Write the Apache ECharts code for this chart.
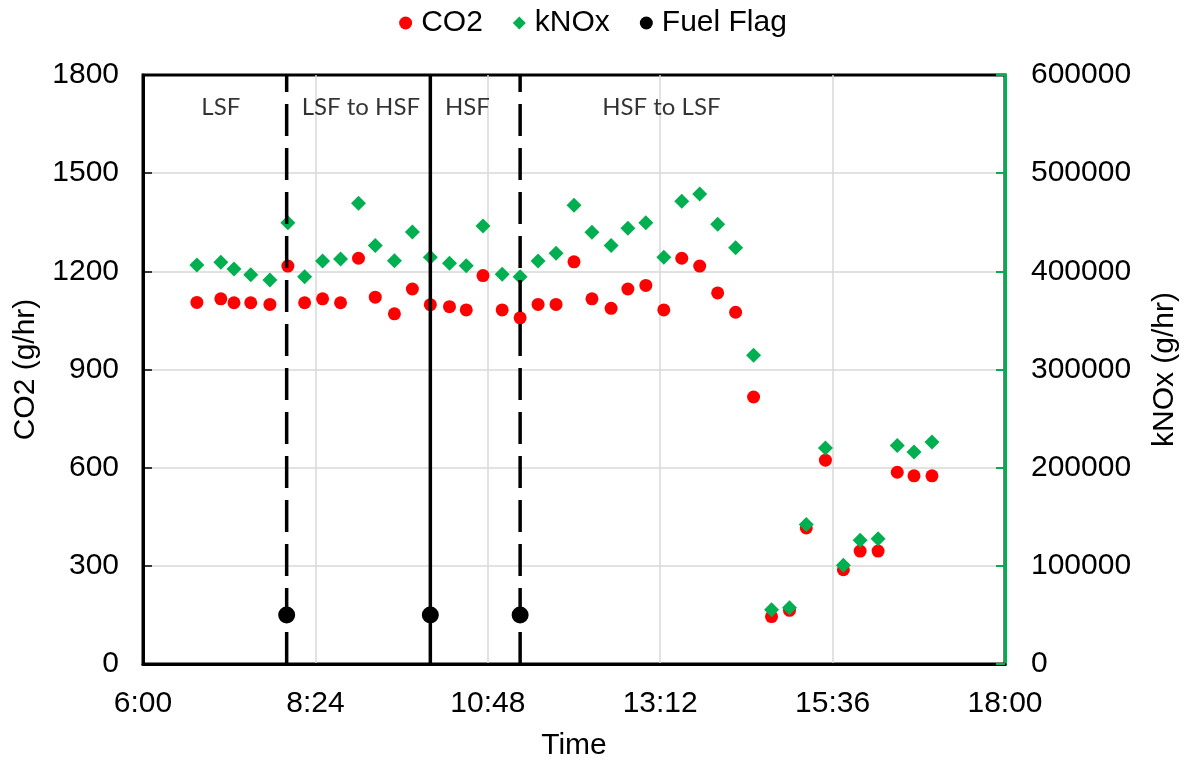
<!DOCTYPE html>
<html>
<head>
<meta charset="utf-8">
<script src="https://cdn.jsdelivr.net/npm/echarts@6/dist/echarts.min.js"></script>
<style>
  html, body { margin: 0; padding: 0; background: #fff; }
  #chart { width: 1186px; height: 762px; }
</style>
</head>
<body>
<div id="chart"></div>
<script>
// sample times (h:mm)
const times = ['6:45', '7:05', '7:16', '7:30', '7:46', '8:01', '8:15', '8:30', '8:45', '9:00',
  '9:14', '9:30', '9:45', '10:00', '10:16', '10:30', '10:44', '11:00', '11:15', '11:30',
  '11:45', '12:00', '12:15', '12:31', '12:45', '13:00', '13:15', '13:30', '13:45', '14:00',
  '14:15', '14:30', '14:45', '15:00', '15:14', '15:30', '15:45', '15:59', '16:14', '16:30',
  '16:44', '16:59']
const co2 = [1105, 1116, 1104, 1104, 1099, 1216, 1104, 1116, 1104, 1240,
  1121, 1070, 1146, 1098, 1092, 1082, 1187, 1082, 1058, 1099,
  1099, 1229, 1116, 1087, 1146, 1157, 1082, 1240, 1216, 1134,
  1075, 816, 145, 164, 416, 623, 288, 345, 345, 586,
  575, 575]
const knox = [406500, 409200, 402400, 396600, 391200, 449600, 394500, 410600, 412600, 469400,
  426200, 410900, 440100, 414300, 408200, 405800, 446300, 397000, 394500, 410600,
  418400, 467300, 439800, 426200, 443900, 449600, 414300, 471400, 478900, 448000,
  424100, 314400, 55300, 57300, 142000, 220100, 100500, 126000, 127700, 222600,
  216000, 226200]

const flagTimes = ['8:00', '10:00', '11:15']
const flagValues = [150, 150, 150]

const phaseLabels = ['LSF', 'LSF to HSF', 'HSF', 'HSF to LSF']
const phaseTimes = ['7:05', '9:02', '10:31', '13:13']
const phaseLevel = 1700

const xTickLabels = ['6:00', '8:24', '10:48', '13:12', '15:36', '18:00']
const co2Ticks = [0, 300, 600, 900, 1200, 1500, 1800]
const knoxTicks = [0, 100000, 200000, 300000, 400000, 500000, 600000]

function toMin(s) {
  const p = s.split(':')
  return +p[0] * 60 + +p[1]
}
function fmtTime(v) {
  const h = Math.floor(v / 60)
  const m = Math.round(v - h * 60)
  return h + ':' + (m < 10 ? '0' + m : m)
}

const xMin = toMin(xTickLabels[0])
const xMax = toMin(xTickLabels[xTickLabels.length - 1])
const xStep = toMin(xTickLabels[1]) - xMin
const yMax = co2Ticks[co2Ticks.length - 1]

const font = '"Liberation Sans", Arial, sans-serif'
const fs = 30
const gridLine = { color: '#d9d9d9', width: 1.5 }

const chart = echarts.init(document.getElementById('chart'))

const flagLines = flagTimes.map((t, i) => ({
  type: 'line',
  name: 'flagLine' + i,
  data: [[toMin(t), 0], [toMin(t), yMax]],
  showSymbol: false,
  symbol: 'none',
  silent: true,
  z: 4,
  lineStyle: {
    color: '#000',
    width: 3.5,
    opacity: 1,
    type: i === 1 ? 'solid' : [32, 12]
  }
}))

const option = {
  backgroundColor: '#fff',
  animation: false,
  textStyle: { fontFamily: font },
  legend: {
    top: 3,
    left: 'center',
    itemWidth: 13,
    itemHeight: 13,
    itemGap: 30,
    textStyle: { fontFamily: font, fontSize: fs, color: '#000', padding: [0, 0, 0, 4] },
    data: [
      { name: 'CO2', icon: 'circle' },
      { name: 'kNOx', icon: 'diamond' },
      { name: 'Fuel Flag', icon: 'circle' }
    ]
  },
  grid: {
    left: 143,
    right: 181,
    top: 75,
    bottom: 98,
    outerBoundsMode: 'none',
    containLabel: false,
    show: true,
    borderColor: '#000',
    borderWidth: 3
  },
  xAxis: {
    type: 'value',
    min: xMin,
    max: xMax,
    interval: xStep,
    name: 'Time',
    nameLocation: 'middle',
    nameGap: 67,
    nameTextStyle: { fontFamily: font, fontSize: fs, color: '#000' },
    axisLine: { show: true, lineStyle: { color: '#000', width: 3 } },
    axisTick: { show: false },
    axisLabel: { fontFamily: font, fontSize: fs, color: '#000', margin: 25, formatter: fmtTime },
    splitLine: { show: true, showMinLine: false, showMaxLine: false, lineStyle: gridLine }
  },
  yAxis: [
    {
      type: 'value',
      min: co2Ticks[0],
      max: yMax,
      interval: co2Ticks[1] - co2Ticks[0],
      name: 'CO2 (g/hr)',
      nameLocation: 'middle',
      nameGap: 102,
      nameRotate: 90,
      nameTextStyle: { fontFamily: font, fontSize: fs, color: '#000' },
      axisLine: { show: true, lineStyle: { color: '#000', width: 3 } },
      axisTick: { show: true, inside: true, length: 9, lineStyle: { color: '#000', width: 1.5 } },
      axisLabel: { fontFamily: font, fontSize: fs, color: '#000', margin: 24, formatter: v => String(v) },
      splitLine: { show: true, showMinLine: false, showMaxLine: false, lineStyle: gridLine }
    },
    {
      type: 'value',
      position: 'right',
      min: knoxTicks[0],
      max: knoxTicks[knoxTicks.length - 1],
      interval: knoxTicks[1] - knoxTicks[0],
      name: 'kNOx (g/hr)',
      nameLocation: 'middle',
      nameGap: 145,
      nameRotate: 90,
      nameTextStyle: { fontFamily: font, fontSize: fs, color: '#000' },
      axisLine: { show: true, lineStyle: { color: '#00b050', width: 3 } },
      axisTick: { show: true, inside: true, length: 9, lineStyle: { color: '#00b050', width: 2 } },
      axisLabel: { fontFamily: font, fontSize: fs, color: '#000', margin: 26, formatter: v => String(v) },
      splitLine: { show: false }
    }
  ],
  series: [
    {
      type: 'scatter',
      name: 'CO2',
      yAxisIndex: 0,
      symbol: 'circle',
      symbolSize: 13,
      itemStyle: { color: '#ff0000', opacity: 1 },
      z: 2,
      data: times.map((t, i) => [toMin(t), co2[i]])
    },
    {
      type: 'scatter',
      name: 'kNOx',
      yAxisIndex: 1,
      symbol: 'diamond',
      symbolSize: 15,
      itemStyle: { color: '#00b050', opacity: 1 },
      z: 3,
      data: times.map((t, i) => [toMin(t), knox[i]])
    },
    ...flagLines,
    {
      type: 'scatter',
      name: 'Fuel Flag',
      yAxisIndex: 0,
      symbol: 'circle',
      symbolSize: 17,
      itemStyle: { color: '#000', opacity: 1 },
      z: 5,
      data: flagTimes.map((t, i) => [toMin(t), flagValues[i]])
    },
    {
      type: 'scatter',
      name: 'phases',
      yAxisIndex: 0,
      symbolSize: 0,
      silent: true,
      z: 6,
      label: {
        show: true,
        position: 'inside',
        fontFamily: 'Lato, "Open Sans", sans-serif',
        fontSize: 24,
        color: '#000',
        formatter: p => phaseLabels[p.dataIndex]
      },
      data: phaseTimes.map(t => [toMin(t), phaseLevel])
    }
  ]
}

chart.setOption(option)
</script>
</body>
</html>
